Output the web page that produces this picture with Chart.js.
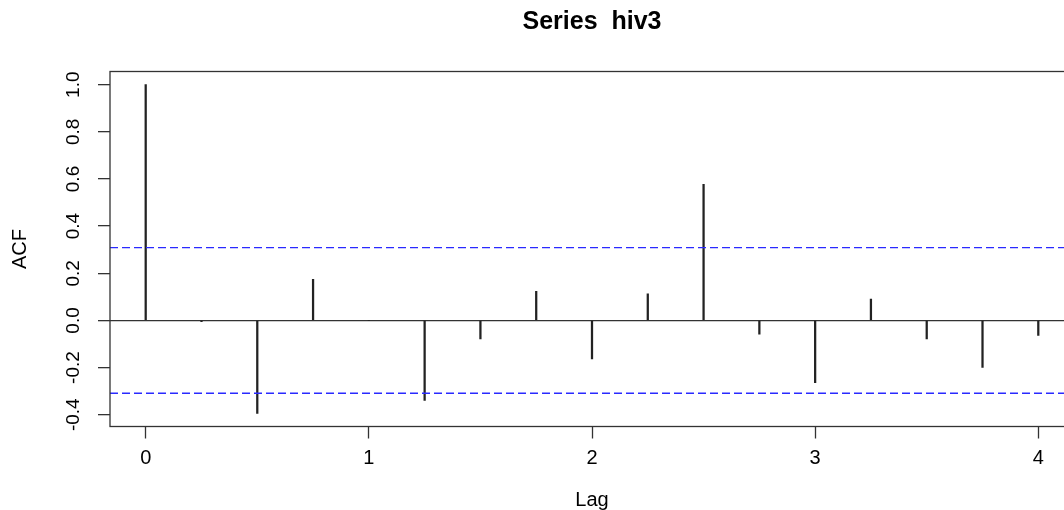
<!DOCTYPE html>
<html>
<head>
<meta charset="utf-8">
<script src="https://cdn.jsdelivr.net/npm/chart.js@4"></script>
<style>
  html, body { margin: 0; padding: 0; background: #fff; overflow: hidden; }
  #wrap { width: 1080px; height: 510px; position: relative; }
</style>
</head>
<body>
<div id="wrap"><canvas id="chart"></canvas></div>
<script>
// ACF values, lags in years (step 0.25)
const lags = [0, 0.25, 0.5, 0.75, 1, 1.25, 1.5, 1.75, 2, 2.25, 2.5, 2.75, 3, 3.25, 3.5, 3.75, 4];
const acf  = [1.0, -0.005, -0.395, 0.174, 0.0, -0.339, -0.078, 0.123, -0.163, 0.113, 0.577, -0.058, -0.264, 0.091, -0.078, -0.199, -0.064];
const ciLevel = 0.309;   // blue dashed bounds
const lagTicks = [0, 1, 2, 3, 4];
const acfTicks = [-0.4, -0.2, 0.0, 0.2, 0.4, 0.6, 0.8, 1.0];
const xRange = [-0.16, 4.16];
const yRange = [-0.45, 1.056];

const ink = '#333';
const ciColor = '#2a2aff';

// box round the plot region, like R's bty="o"
const boxPlugin = {
    id: 'box',
    afterDraw(chart) {
        const a = chart.chartArea;
        const ctx = chart.ctx;
        ctx.save();
        ctx.strokeStyle = ink;
        ctx.lineWidth = 1.3;
        ctx.strokeRect(a.left, a.top, a.right - a.left, a.bottom - a.top);
        ctx.restore();
    }
};

const ctx = document.getElementById('chart').getContext('2d');
new Chart(ctx, {
    type: 'bar',
    data: {
        datasets: [
            {
                label: 'ACF',
                data: lags.map((l, i) => ({ x: l, y: acf[i] })),
                backgroundColor: '#222',
                borderWidth: 0,
                barThickness: 1.6,
                order: 2
            },
            {
                type: 'line',
                label: 'upper',
                data: [{ x: xRange[0], y: ciLevel }, { x: xRange[1], y: ciLevel }],
                borderColor: ciColor,
                borderWidth: 1.4,
                borderDash: [8, 4],
                pointRadius: 0,
                fill: false,
                order: 1
            },
            {
                type: 'line',
                label: 'lower',
                data: [{ x: xRange[0], y: -ciLevel }, { x: xRange[1], y: -ciLevel }],
                borderColor: ciColor,
                borderWidth: 1.4,
                borderDash: [8, 4],
                pointRadius: 0,
                fill: false,
                order: 1
            }
        ]
    },
    options: {
        responsive: true,
        maintainAspectRatio: false,
        animation: false,
        layout: { padding: { left: 0, right: 6, top: 0, bottom: 0 } },
        plugins: {
            legend: { display: false },
            tooltip: { enabled: false },
            title: {
                display: true,
                fullSize: false,
                text: 'Series  hiv3',
                color: '#000',
                font: { family: 'Liberation Sans, Arial, sans-serif', size: 25, weight: 'bold', lineHeight: 1.2 },
                padding: { top: 7.5, bottom: 34 }
            }
        },
        scales: {
            x: {
                type: 'linear',
                offset: false,
                min: xRange[0],
                max: xRange[1],
                afterBuildTicks: s => { s.ticks = lagTicks.map(v => ({ value: v })); },
                afterFit: s => { s.height = 83.5; s.paddingLeft = 0; s.paddingRight = 0; },
                ticks: {
                    color: '#000',
                    padding: 8,
                    maxRotation: 0,
                    font: { family: 'Liberation Sans, Arial, sans-serif', size: 20 },
                    callback: v => String(v)
                },
                grid: { offset: false, drawOnChartArea: false, drawTicks: true, tickLength: 12, tickColor: ink, tickWidth: 1.3 },
                border: { display: false },
                title: {
                    display: true,
                    text: 'Lag',
                    color: '#000',
                    font: { family: 'Liberation Sans, Arial, sans-serif', size: 20, lineHeight: 1 },
                    padding: { top: 0, bottom: 0 }
                }
            },
            y: {
                type: 'linear',
                min: yRange[0],
                max: yRange[1],
                afterBuildTicks: s => { s.ticks = acfTicks.map(v => ({ value: v })); },
                afterFit: s => { s.width = 110; s.paddingTop = 0; s.paddingBottom = 0; },
                ticks: {
                    color: '#000',
                    padding: 8,
                    minRotation: 90,
                    maxRotation: 90,
                    crossAlign: 'center',
                    font: { family: 'Liberation Sans, Arial, sans-serif', size: 19 },
                    callback: v => Number(v).toFixed(1)
                },
                grid: {
                    drawTicks: true,
                    tickLength: 12,
                    tickColor: ink,
                    tickWidth: 1.3,
                    lineWidth: 1.3,
                    color: c => (c.tick && c.tick.value === 0 ? ink : 'rgba(0,0,0,0)')
                },
                border: { display: false },
                title: {
                    display: true,
                    text: 'ACF',
                    color: '#000',
                    font: { family: 'Liberation Sans, Arial, sans-serif', size: 20, lineHeight: 1 },
                    padding: { top: 10, bottom: 0 }
                }
            }
        }
    },
    plugins: [boxPlugin]
});
</script>
</body>
</html>
